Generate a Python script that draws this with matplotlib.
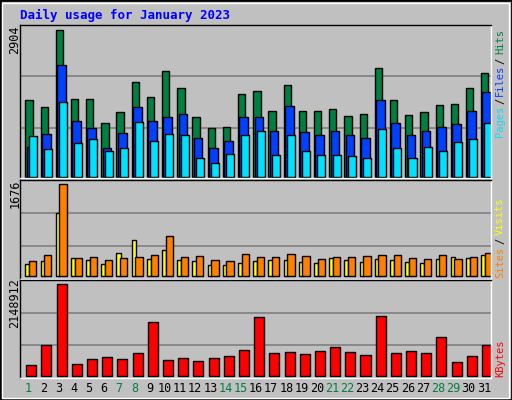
import matplotlib
matplotlib.use("Agg")
import matplotlib.pyplot as plt
from matplotlib.patches import Rectangle
import numpy as np

days = list(range(1, 32))
weekend = [1, 7, 8, 14, 15, 21, 22, 28, 29]
hits = [1522,1383,2904,1541,1541,1067,1284,1877,1581,2095,1759,1186,968,988,1640,1699,
        1304,1818,1304,1304,1344,1205,1245,2154,1522,1225,1284,1423,1443,1759,2055]
files = [580,850,2213,1107,968,573,869,1383,1107,1186,1245,771,573,711,1186,1186,
         909,1403,889,830,909,830,771,1522,1067,830,909,988,1047,1304,1680]
pages = [810,553,1482,672,751,514,573,1087,711,850,830,375,277,454,830,909,
         435,830,514,435,435,415,375,949,573,375,593,514,692,751,1067]
visits = [219,273,1148,328,291,219,419,656,310,474,291,273,200,200,237,273,
          291,291,255,237,328,291,255,310,291,255,237,310,346,328,383]
sites = [273,383,1676,328,346,291,328,346,383,729,346,364,291,273,401,346,
         346,401,364,310,346,346,364,383,383,328,310,383,310,346,419]
kbytes = [242000,711000,2148912,266000,383000,430000,383000,524000,1250000,359000,406000,
          336000,406000,453000,594000,1367000,524000,547000,500000,570000,664000,547000,
          477000,1391000,524000,570000,524000,899000,313000,453000,711000]

W, H = 512, 400
fig = plt.figure(figsize=(W/100, H/100), dpi=100, facecolor="#C0C0C0")
BG = "#C0C0C0"
fig.patches.append(Rectangle((0, 0), 1, 1, transform=fig.transFigure, fill=False, ec="black", lw=2))
fig.patches.append(Rectangle((2/W, 2/H), 1-5/W, 1-5/H, transform=fig.transFigure, fill=False, ec="white", lw=1))

def ax_px(x0, y0, x1, y1):
    return fig.add_axes([x0/W, 1-y1/H, (x1-x0)/W, (y1-y0)/H])

d = np.array(days)
ax1 = ax_px(20, 25, 491, 177.5)
ax2 = ax_px(20, 180, 491, 279.3)
ax3 = ax_px(20, 280.3, 491, 377.7)
for ax, top, bot in [(ax1, 2995, -15), (ax2, 1754, -55), (ax3, 2236000, -47000)]:
    ax.set_facecolor(BG)
    ax.set_xlim(0.5, 31.5)
    ax.set_ylim(bot, top)
    ax.set_xticks([]); ax.set_yticks([])
    for s in ax.spines.values():
        s.set_color("black"); s.set_linewidth(1)
    ax.spines["right"].set_color("white"); ax.spines["bottom"].set_color("white")

def grid(ax, mx):
    for f in (0.333, 0.683):
        ax.axhline(mx*f, color="#808080", lw=1.2, zorder=0)
grid(ax1, 2904); grid(ax2, 1676); grid(ax3, 2148912)

kw = dict(align="edge", edgecolor="black", linewidth=1)
ax1.bar(d-0.5+0.35, hits, width=0.48, color="#008040", **kw)
ax1.bar(d-0.5+0.44, files, width=0.57, color="#0040FF", **kw)
ax1.bar(d-0.5+0.57, pages, width=0.53, color="#00E0FF", **kw)
ax2.bar(d-0.5+0.35, visits, width=0.27, color="#FFFF00", **kw)
ax2.bar(d-0.5+0.59, sites, width=0.48, color="#FF8000", **kw)
ax3.bar(d-0.5+0.41, kbytes, width=0.66, color="#FF0000", **kw)

mono = "DejaVu Sans Mono"
def T(x, y, s, c="black", **k):
    fig.text(x/W, 1-y/H, s, color=c, family=mono, **k)

T(20, 15, "Daily usage for January 2023", "#0000FF", fontsize=9, fontweight="bold", va="center", ha="left")
T(15, 40, "2904", fontsize=8.5, rotation=90, ha="center", va="center")
T(15, 194, "1676", fontsize=8.5, rotation=90, ha="center", va="center")
T(15, 303, "2148912", fontsize=8.5, rotation=90, ha="center", va="center")

for s, y, c in [("Hits", 42, "#008040"), ("/", 60.5, "black"), ("Files", 80, "#0040FF"),
                ("/", 100.5, "black"), ("Pages", 121, "#00E0FF"),
                ("Visits", 216, "#FFFF00"), ("/", 241, "black"), ("Sites", 262, "#FF8000"),
                ("KBytes", 358, "#FF0000")]:
    T(500, y, s, c, fontsize=7.5, rotation=90, ha="center", va="center")

for i in days:
    x = 20 + (i - 0.5) * (471/31) + 0.5
    T(x, 389, str(i), "#008040" if i in weekend else "black", fontsize=8.5, ha="center", va="center")

fig.savefig("out.png", dpi=100, facecolor=fig.get_facecolor())
